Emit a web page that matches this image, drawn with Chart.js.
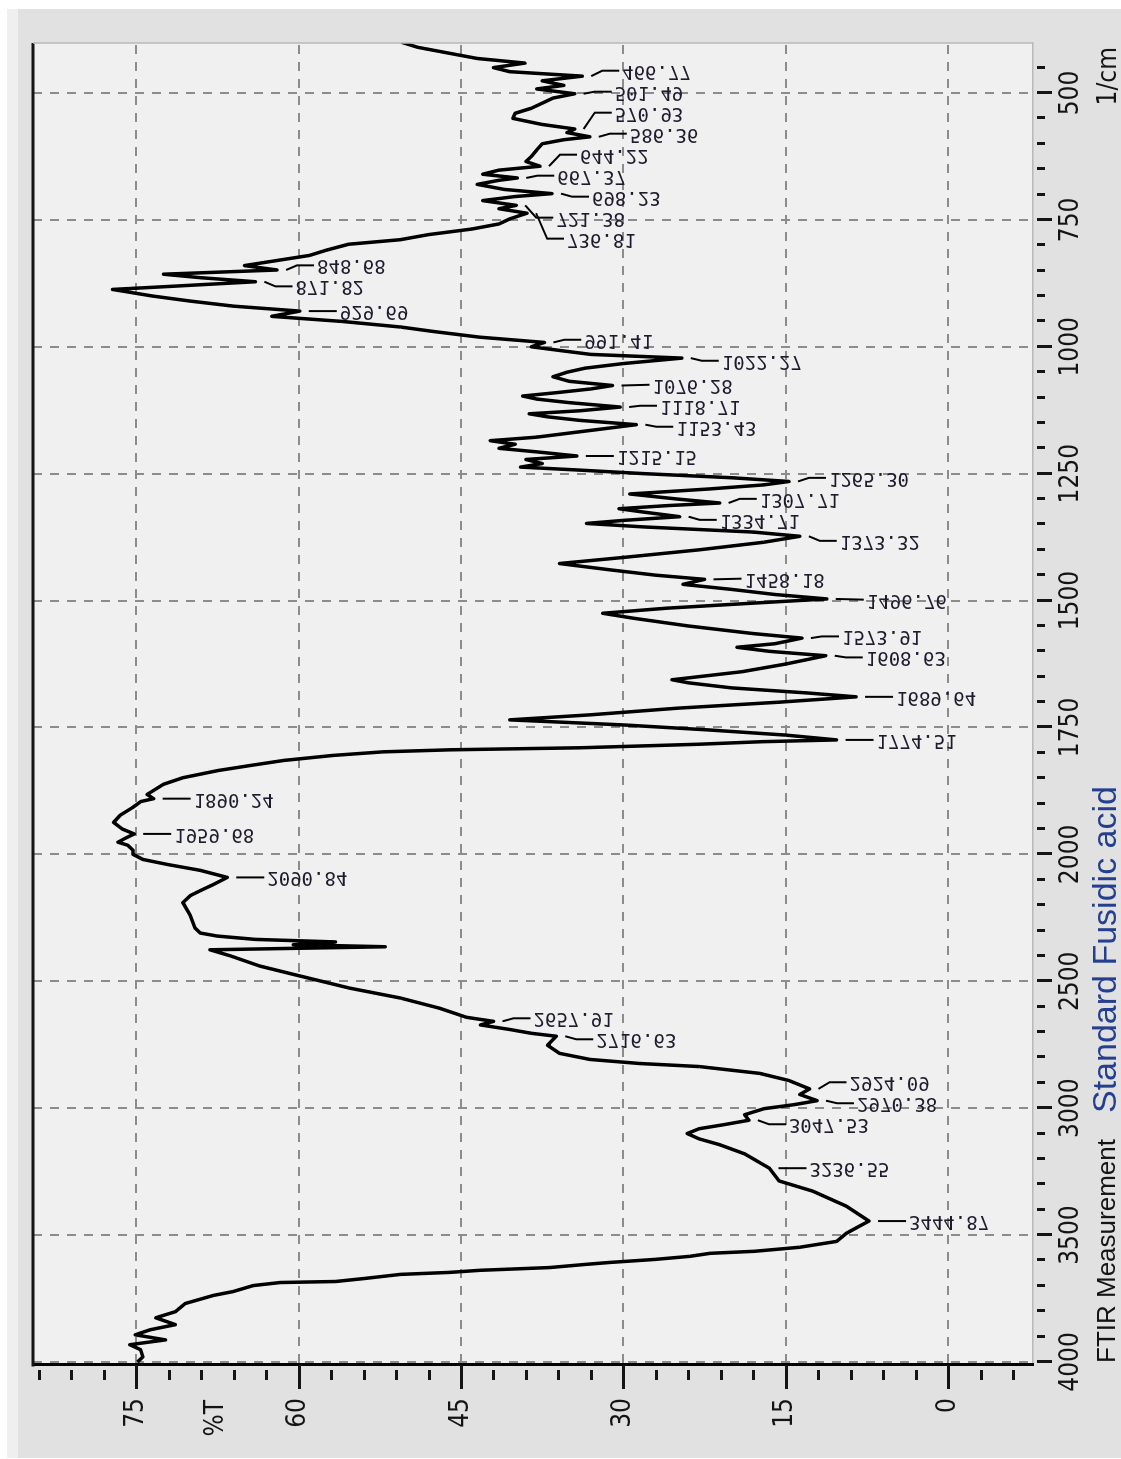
<!DOCTYPE html>
<html>
<head>
<meta charset="utf-8">
<title>FTIR Measurement Standard Fusidic acid</title>
<script src="https://cdn.jsdelivr.net/npm/chart.js@4.4.1/dist/chart.umd.min.js"></script>
<style>
  html, body { margin: 0; padding: 0; background: #ffffff; }
  #page { position: relative; width: 1121px; height: 1459px; overflow: hidden; }
  .band { position: absolute; }
  /* the spectrum is laid out landscape and turned a quarter to the left */
  #spectrum {
    position: absolute; left: -169px; top: 169px;
    width: 1459px; height: 1121px;
    transform: rotate(-90deg);
  }
</style>
</head>
<body>
<div id="page">
  <div class="band" style="left:7px;top:9px;width:1114px;height:1449px;background:#efefef"></div>
  <div class="band" style="left:18px;top:9px;width:1103px;height:1449px;background:#e1e1e1"></div>
  <canvas id="spectrum" width="1459" height="1121"></canvas>
</div>
<script>
const WAVENUMBERS = [
  4000, 3980, 3952, 3932, 3913, 3893, 3873, 3853, 3826, 3802,
  3770, 3738, 3723, 3699, 3687, 3683, 3671, 3655, 3647, 3639,
  3628, 3616, 3608, 3596, 3584, 3572, 3564, 3548, 3525, 3493,
  3465, 3444.87, 3386, 3327, 3287, 3236.55, 3180, 3144, 3121, 3100,
  3081, 3065, 3047.53, 3026, 3002, 2986, 2970.38, 2946, 2924.09, 2891,
  2863, 2836, 2824, 2808, 2784, 2752, 2716.63, 2705, 2690, 2672,
  2657.91, 2642, 2606, 2566, 2527, 2479, 2440, 2400, 2376, 2364,
  2356, 2345, 2335, 2322, 2310, 2289, 2242, 2190, 2162, 2143,
  2119, 2090.84, 2063, 2040, 2020, 2000, 1992, 1982, 1976, 1968,
  1959.68, 1950, 1937, 1923, 1907, 1896, 1890.24, 1882, 1862, 1849,
  1835, 1825, 1815, 1805, 1798, 1794, 1790, 1783, 1778, 1774.51,
  1765, 1755, 1745, 1735, 1725, 1712, 1700, 1689.64, 1682, 1672,
  1662, 1656, 1640, 1625, 1608.63, 1600, 1592, 1585, 1573.91, 1565,
  1550, 1535, 1525, 1515, 1505, 1496.76, 1488, 1478, 1468, 1458.18,
  1450, 1440, 1427, 1415, 1400, 1385, 1373.32, 1365, 1355, 1348,
  1342, 1334.71, 1326, 1319, 1313, 1307.71, 1300, 1290, 1280, 1272,
  1265.30, 1258, 1250, 1243, 1237, 1230, 1222, 1215.15, 1207, 1200,
  1192, 1185, 1178, 1170, 1162, 1153.43, 1145, 1138, 1132, 1126,
  1118.71, 1110, 1103, 1097, 1090, 1083, 1076.28, 1068, 1059, 1050,
  1042, 1033, 1022.27, 1015, 1008, 1000, 991.41, 981, 970, 961,
  950, 940, 929.69, 920, 910, 900, 893, 887, 880, 871.82,
  864, 857, 848.68, 840, 830, 820, 810, 798, 789, 779,
  768, 758, 748, 736.81, 728, 721.38, 712, 704, 698.23, 690,
  680, 672, 667.37, 660, 652, 644.22, 635, 625, 612, 600,
  592, 586.36, 578, 570.93, 562, 550, 540, 530, 520, 510,
  501.49, 492, 485, 476, 466.77, 458, 450, 441, 432, 420,
  410, 400
];

const TRANSMITTANCE = [
  74.9, 74.4, 74.6, 75.6, 72.3, 75.1, 73.7, 71.4, 73.2, 71.4,
  70.5, 67.9, 66.1, 64.2, 61.7, 56.6, 53.9, 50.6, 46.0, 43.3,
  36.8, 33.6, 31.3, 27.1, 23.9, 22.0, 17.9, 13.7, 10.3, 9.4,
  8.2, 7.3, 9.4, 12.5, 15.6, 16.5, 18.8, 21.1, 23.0, 24.1,
  23.0, 20.7, 18.4, 18.8, 17.0, 14.2, 12.1, 13.7, 12.8, 14.7,
  17.4, 23.0, 28.5, 33.1, 35.9, 37.0, 36.2, 38.5, 40.5, 43.2,
  42.0, 44.5, 47.0, 50.6, 55.3, 59.9, 63.6, 66.3, 68.2, 52.0,
  60.5, 56.6, 64.0, 67.5, 69.1, 69.6, 70.0, 70.7, 70.0, 69.1,
  67.9, 66.6, 69.1, 72.1, 74.4, 75.3, 75.3, 75.8, 76.7, 76.0,
  75.2, 76.3, 77.1, 76.5, 75.3, 74.6, 73.4, 74.0, 72.5, 70.7,
  67.5, 64.5, 61.4, 56.8, 52.2, 46.0, 34.0, 23.0, 17.2, 10.3,
  15.0, 22.0, 30.0, 40.5, 33.0, 25.0, 15.5, 8.5, 13.0, 20.0,
  24.0, 25.5, 19.0, 15.0, 11.3, 16.5, 19.5, 16.0, 13.5, 18.0,
  24.0, 29.0, 31.9, 26.0, 18.0, 11.2, 16.0, 20.0, 24.5, 22.5,
  27.0, 31.0, 35.9, 30.0, 23.0, 17.0, 13.7, 18.0, 28.0, 33.4,
  30.0, 24.8, 28.0, 30.4, 26.0, 21.1, 25.0, 29.4, 22.0, 17.0,
  14.7, 20.0, 28.0, 34.0, 39.5, 37.5, 39.0, 34.3, 38.0, 41.5,
  40.0, 42.3, 38.0, 35.0, 32.0, 28.8, 34.0, 37.0, 38.7, 34.0,
  30.3, 35.0, 38.0, 39.3, 36.0, 33.0, 31.0, 35.0, 36.5, 35.2,
  33.5, 30.0, 24.6, 33.0, 35.6, 38.5, 37.3, 43.3, 47.5, 50.6,
  56.0, 62.5, 59.9, 66.0, 70.0, 73.5, 75.5, 77.2, 71.0, 64.0,
  69.0, 72.5, 62.0, 65.0, 62.0, 59.0, 57.5, 55.4, 50.6, 48.0,
  44.0, 41.5, 40.5, 38.9, 41.5, 39.9, 43.0, 40.0, 36.6, 41.0,
  43.5, 41.5, 39.8, 43.0, 41.5, 37.7, 39.0, 38.5, 38.0, 37.5,
  35.5, 33.1, 35.2, 34.5, 37.5, 40.2, 40.0, 38.5, 37.5, 36.5,
  34.5, 38.0, 35.5, 37.5, 33.8, 40.5, 42.0, 39.1, 43.5, 46.5,
  49.0, 50.5
];

const PEAK_LABELS = [
  "3444.87", "3236.55", "3047.53", "2970.38", "2924.09", "2716.63", "2657.91",
  "2090.84", "1959.68", "1890.24", "1774.51", "1689.64", "1608.63", "1573.91",
  "1496.76", "1458.18", "1373.32", "1334.71", "1307.71", "1265.30", "1215.15",
  "1153.43", "1118.71", "1076.28", "1022.27", "991.41", "929.69", "871.82",
  "848.68", "736.81", "721.38", "698.23", "667.37", "644.22", "586.36",
  "570.93", "501.49", "466.77"
];

const WAVENUMBER_LABELS = [500, 750, 1000, 1250, 1500, 1750, 2000, 2500, 3000, 3500, 4000];
const TRANSMITTANCE_LABELS = [0, 15, 30, 45, 60, 75];

const NARROW = "'Liberation Sans Narrow', 'DejaVu Sans Condensed', 'Liberation Sans', sans-serif";
const SANS = "'Liberation Sans', Arial, sans-serif";
const MONO = "'DejaVu Sans Mono', 'Liberation Mono', monospace";
const GRID = "#8c8c8c";
const INK = "#141414";

// above 2000 1/cm the wavenumber axis is drawn at half scale
function toAxis(w) { return w <= 2000 ? w : 2000 + (w - 2000) / 2; }
function fromAxis(u) { return u <= 2000 ? u : 2000 + (u - 2000) * 2; }

const wnTicks = [];
for (let w = 450; w <= 2000; w += 50) wnTicks.push(w);
for (let w = 2100; w <= 4000; w += 100) wnTicks.push(w);
const xTickValues = wnTicks.map(toAxis);

const yTickValues = [];
for (let t = -6; t <= 84; t += 3) yTickValues.push(t);

const isMajorX = (u) => WAVENUMBER_LABELS.includes(Math.round(fromAxis(u)));
const isMajorY = (t) => TRANSMITTANCE_LABELS.includes(t);

const spectrum = WAVENUMBERS.map((w, i) => ({ x: toAxis(w), y: TRANSMITTANCE[i] }));

const framePlugin = {
  id: "frame",
  beforeDraw(chart) {
    const { ctx, chartArea: a } = chart;
    ctx.save();
    ctx.fillStyle = "#f0f0f0";
    ctx.fillRect(a.left, a.top, a.right - a.left, a.bottom - a.top);
    ctx.restore();
  },
  afterDatasetsDraw(chart) {
    const { ctx, chartArea: a } = chart;
    const xs = chart.scales.x;
    const ys = chart.scales.y;

    const items = PEAK_LABELS.map((text) => {
      const w = parseFloat(text);
      const i = WAVENUMBERS.indexOf(w);
      const px = xs.getPixelForValue(toAxis(w));
      const py = ys.getPixelForValue(TRANSMITTANCE[i]);
      return { text, px, py, lx: px };
    }).sort((p, q) => p.px - q.px);

    // push crowded labels apart along the wavenumber axis
    const gap = 21;
    for (let pass = 0; pass < 400; pass++) {
      let moved = false;
      for (let k = 0; k < items.length - 1; k++) {
        const d = items[k + 1].lx - items[k].lx;
        if (d < gap - 0.01) {
          const s = (gap - d) / 2;
          items[k].lx -= s;
          items[k + 1].lx += s;
          moved = true;
        }
      }
      if (!moved) break;
    }

    ctx.save();
    ctx.beginPath();
    ctx.rect(a.left, a.top, a.right - a.left, a.bottom - a.top);
    ctx.clip();
    ctx.strokeStyle = "#000";
    ctx.lineWidth = 2;
    ctx.fillStyle = "#1f1a2c";
    ctx.font = "19px " + MONO;
    ctx.textAlign = "left";
    ctx.textBaseline = "middle";
    items.forEach((p) => {
      ctx.beginPath();
      ctx.moveTo(p.px, p.py + 9);
      if (Math.abs(p.lx - p.px) > 1) ctx.lineTo(p.lx, p.py + 20);
      ctx.lineTo(p.lx, p.py + 37);
      ctx.stroke();
      ctx.save();
      ctx.translate(p.lx, p.py + 40);
      ctx.transform(0, 1, 1, 0, 0, 0);
      ctx.fillText(p.text, 0, 0);
      ctx.restore();
    });
    ctx.restore();
  },
  afterDraw(chart) {
    const { ctx, chartArea: a } = chart;
    const xs = chart.scales.x;
    const ys = chart.scales.y;
    ctx.save();
    ctx.strokeStyle = INK;
    ctx.lineWidth = 3;
    ctx.lineCap = "butt";

    // wavenumber tick marks
    xTickValues.forEach((u) => {
      const x = Math.round(xs.getPixelForValue(u)) + 0.5;
      ctx.beginPath();
      ctx.moveTo(x, a.bottom + 4);
      ctx.lineTo(x, a.bottom + (isMajorX(u) ? 19 : 12));
      ctx.stroke();
    });

    // transmittance tick marks
    yTickValues.forEach((t) => {
      const y = Math.round(ys.getPixelForValue(t)) + 0.5;
      ctx.beginPath();
      if (isMajorY(t)) {
        ctx.moveTo(a.left, y);
        ctx.lineTo(a.left - 24, y);
      } else {
        ctx.moveTo(a.left - 5, y);
        ctx.lineTo(a.left - 15, y);
      }
      ctx.stroke();
    });

    // top edge heavy, right edge light
    ctx.beginPath();
    ctx.moveTo(a.left - 1.5, a.top);
    ctx.lineTo(a.right, a.top);
    ctx.stroke();
    ctx.strokeStyle = "#b8b8b8";
    ctx.lineWidth = 1.5;
    ctx.beginPath();
    ctx.moveTo(a.right, a.top);
    ctx.lineTo(a.right, a.bottom);
    ctx.stroke();

    // axis units and caption
    ctx.fillStyle = INK;
    ctx.textBaseline = "middle";
    ctx.textAlign = "right";
    ctx.font = "26px " + NARROW;
    ctx.fillText("%T", a.left - 35, ys.getPixelForValue(67.6));

    ctx.textBaseline = "alphabetic";
    ctx.fillText("1/cm", a.right - 4, chart.height - 5);

    ctx.textAlign = "left";
    ctx.font = "26px " + SANS;
    ctx.fillText("FTIR Measurement", a.left + 2, chart.height - 6);
    ctx.font = "34px " + SANS;
    ctx.fillStyle = "#243f8f";
    ctx.fillText("Standard Fusidic acid", a.left + 252, chart.height - 5);
    ctx.restore();
  }
};

new Chart(document.getElementById("spectrum"), {
  type: "scatter",
  data: {
    datasets: [{
      data: spectrum,
      showLine: true,
      borderColor: "#000000",
      borderWidth: 3.5,
      borderJoinStyle: "round",
      pointRadius: 0,
      tension: 0
    }]
  },
  options: {
    responsive: false,
    animation: false,
    devicePixelRatio: 1,
    events: [],
    layout: { padding: { left: 0, right: 43, top: 33, bottom: 0 } },
    plugins: {
      legend: { display: false },
      tooltip: { enabled: false }
    },
    scales: {
      x: {
        type: "linear",
        position: "bottom",
        reverse: true,
        min: 401.5,
        max: 3006,
        afterBuildTicks: (scale) => { scale.ticks = xTickValues.map((v) => ({ value: v })); },
        afterFit: (scale) => {
          scale.height = 88;
          scale.paddingLeft = 0;
          scale.paddingRight = 0;
        },
        ticks: {
          autoSkip: false,
          maxRotation: 0,
          minRotation: 0,
          padding: 23,
          color: INK,
          font: { family: NARROW, size: 26 },
          callback: (v) => (isMajorX(v) ? String(Math.round(fromAxis(v))) : "")
        },
        grid: {
          drawTicks: false,
          lineWidth: 2,
          color: (ctx) => (ctx.tick && isMajorX(ctx.tick.value) ? GRID : "rgba(0,0,0,0)")
        },
        border: { display: true, color: "#b8b8b8", width: 1.5, dash: [9, 8] }
      },
      y: {
        type: "linear",
        position: "left",
        min: -7.85,
        max: 84.55,
        afterBuildTicks: (scale) => { scale.ticks = yTickValues.map((v) => ({ value: v })); },
        afterFit: (scale) => {
          scale.width = 94;
          scale.paddingTop = 0;
          scale.paddingBottom = 0;
        },
        ticks: {
          autoSkip: false,
          padding: 33,
          color: INK,
          font: { family: NARROW, size: 26 },
          callback: (v) => (isMajorY(v) ? String(v) : "")
        },
        grid: {
          drawTicks: false,
          lineWidth: 2,
          color: (ctx) => (ctx.tick && isMajorY(ctx.tick.value) ? GRID : "rgba(0,0,0,0)")
        },
        border: { display: true, color: "#000000", width: 3, dash: [9, 8] }
      }
    }
  },
  plugins: [framePlugin]
});
</script>
</body>
</html>
